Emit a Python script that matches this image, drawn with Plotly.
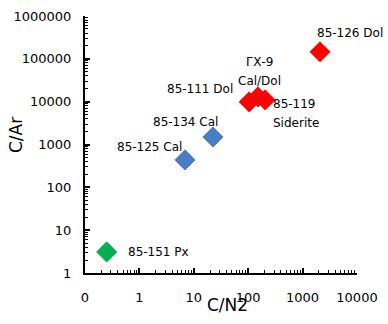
import math
import plotly.graph_objects as go

# Data
labels = ["85-151 Px", "85-125 Cal", "85-134 Cal", "85-111 Dol", "ГХ-9 Cal/Dol", "85-119 Siderite", "85-126 Dol"]
c_n2 = [0.25, 6.9, 22.5, 104, 151, 205, 2090]
c_ar = [3.1, 437, 1500, 9900, 12900, 11000, 146000]
groups = ["green", "blue", "blue", "red", "red", "red", "red"]

x_tickvals = [0.1, 1, 10, 100, 1000, 10000]
x_ticktext = ["0", "1", "10", "100", "1000", "10000"]
y_tickvals = [1, 10, 100, 1000, 10000, 100000, 1000000]
y_ticktext = ["1", "10", "100", "1000", "10000", "100000", "1000000"]

colors = {"green": "#00B050", "blue": "#4A7EC4", "red": "#FF0000"}
lines = {"green": "#00A048", "blue": "#3A6FB8", "red": "#FF0000"}

FONT = "DejaVu Sans"

fig = go.Figure()
for g in ["green", "blue", "red"]:
    idx = [i for i, gg in enumerate(groups) if gg == g]
    fig.add_trace(go.Scatter(
        x=[c_n2[i] for i in idx], y=[c_ar[i] for i in idx],
        mode="markers",
        marker=dict(symbol="diamond", size=15.5, color=colors[g],
                    line=dict(color=lines[g], width=0.8)),
        showlegend=False, hoverinfo="skip",
    ))

# label placement: (text lines, xanchor, xshift, yshift per line)
label_cfg = {
    "85-151 Px": [("85-151 Px", "left", 19, 0)],
    "85-125 Cal": [("85-125 Cal", "right", -1, 13)],
    "85-134 Cal": [("85-134 Cal", "right", 7, 15)],
    "85-111 Dol": [("85-111 Dol", "right", -14, 13)],
    "ГХ-9 Cal/Dol": [("ГХ-9", "center", 2, 35), ("Cal/Dol", "center", 2, 16)],
    "85-119 Siderite": [("85-119", "left", 6, -4), ("Siderite", "left", 6, -23)],
    "85-126 Dol": [("85-126 Dol", "left", -5, 19)],
}
for i, lab in enumerate(labels):
    for (t, xa, xs, ys) in label_cfg[lab]:
        fig.add_annotation(
            x=math.log10(c_n2[i]), y=math.log10(c_ar[i]), xref="x", yref="y",
            text=t, showarrow=False, xanchor=xa, yanchor="middle",
            xshift=xs, yshift=ys,
            font=dict(family=FONT, size=12, color="#000000"),
        )

# axis titles
fig.add_annotation(x=0, xref="paper", y=(273 - 135) / 257, yref="paper",
                   xshift=-69, text="C/Ar", textangle=-90, showarrow=False,
                   xanchor="center", yanchor="middle",
                   font=dict(family=FONT, size=17, color="#000000"))
fig.add_annotation(x=(227 - 85) / 272, xref="paper", y=0, yref="paper",
                   yshift=-32, text="C/N2", showarrow=False,
                   xanchor="center", yanchor="middle",
                   font=dict(family=FONT, size=17, color="#000000"))

x_minor = [m * 10 ** e for e in range(-1, 4) for m in range(2, 10)]
y_minor = [m * 10 ** e for e in range(0, 6) for m in range(2, 10)]

fig.update_xaxes(
    type="log", range=[-1, 4], tickmode="array", tickvals=x_tickvals, ticktext=x_ticktext,
    showgrid=False, zeroline=False, showline=True, linecolor="black", linewidth=2,
    ticks="inside", ticklen=5, tickwidth=2, tickcolor="black",
    minor=dict(tickmode="array", tickvals=x_minor, ticks="inside", ticklen=3,
               tickwidth=1, tickcolor="black", showgrid=False),
    tickfont=dict(family=FONT, size=13, color="#000000"),
    ticklabelstandoff=11, automargin=False,
)
fig.update_yaxes(
    type="log", range=[0, 6], tickmode="array", tickvals=y_tickvals, ticktext=y_ticktext,
    showgrid=False, zeroline=False, showline=True, linecolor="black", linewidth=2,
    ticks="inside", ticklen=5, tickwidth=2, tickcolor="black",
    minor=dict(tickmode="array", tickvals=y_minor, ticks="inside", ticklen=3,
               tickwidth=1, tickcolor="black", showgrid=False),
    tickfont=dict(family=FONT, size=13, color="#000000"),
    ticklabelstandoff=9, automargin=False,
)

fig.update_layout(
    width=388, height=324,
    margin=dict(l=85, r=31, t=16, b=51, autoexpand=False),
    paper_bgcolor="white", plot_bgcolor="white",
    showlegend=False,
)

fig.write_html("out.html", config={"displayModeBar": False},
               post_script="document.body.style.margin='0';document.body.style.padding='0';")
